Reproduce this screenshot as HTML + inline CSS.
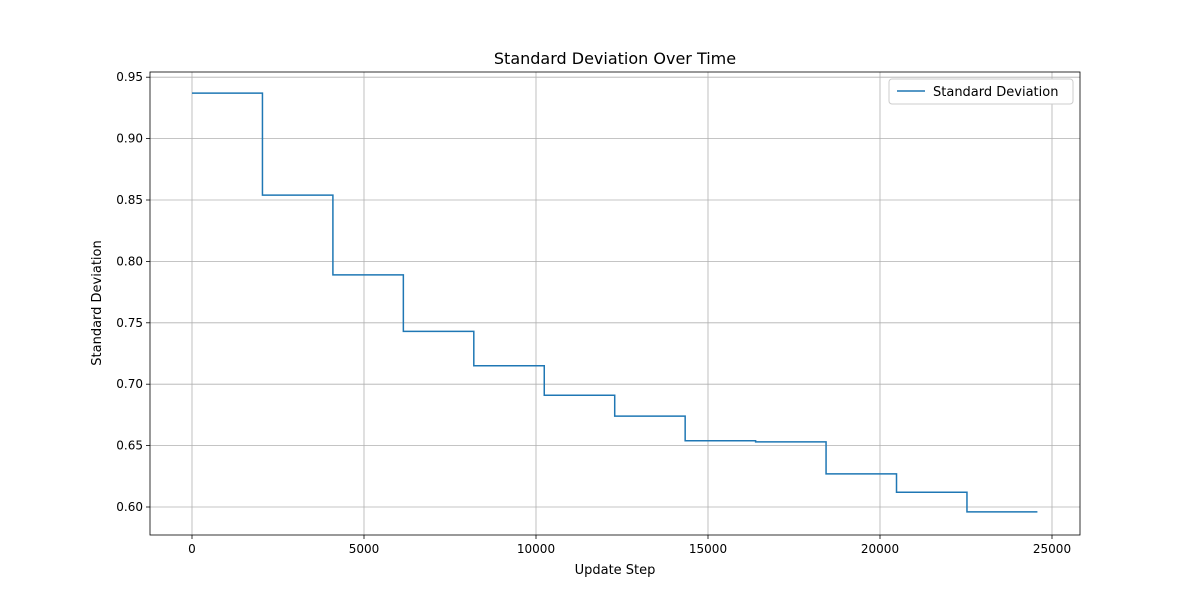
<!DOCTYPE html>
<html><head><meta charset="utf-8"><style>
body{margin:0;background:#fff;}
svg{font-family:"DejaVu Sans","Liberation Sans",sans-serif;}
</style></head><body>
<svg id="chart" width="1200" height="600"></svg>
<script>
const stepStarts = [0,2048,4096,6144,8192,10240,12288,14336,16384,18432,20480,22528,24576];
const stdValues = [0.937,0.854,0.789,0.743,0.715,0.691,0.674,0.654,0.653,0.627,0.612,0.596];
const xTicks = [0,5000,10000,15000,20000,25000];
const yTicks = [0.60,0.65,0.70,0.75,0.80,0.85,0.90,0.95];

const L=150,R=1080,T=72,B=535;
const xs=v=>192+(v/5000)*172;
const ys=v=>507-(v-0.60)/0.05*61.4;
const NS="http://www.w3.org/2000/svg";
const svg=document.getElementById('chart');
function mk(t,a,p){const e=document.createElementNS(NS,t);for(const k in a)e.setAttribute(k,a[k]);(p||svg).appendChild(e);return e;}

const grid=mk('g',{});


xTicks.forEach(v=>{
  const x=xs(v);
  mk('line',{x1:x,x2:x,y1:T,y2:B,stroke:'#b0b0b0','stroke-width':0.8},grid);
  mk('line',{x1:x,x2:x,y1:B,y2:B+4,stroke:'#000','stroke-width':0.8});
  const t=mk('text',{x:x,y:B+18,'text-anchor':'middle','font-size':12});
  t.textContent=v;
  
  
});
yTicks.forEach(v=>{
  const y=ys(v);
  mk('line',{x1:L,x2:R,y1:y,y2:y,stroke:'#b0b0b0','stroke-width':0.8},grid);
  mk('line',{x1:L-4,x2:L,y1:y,y2:y,stroke:'#000','stroke-width':0.8});
  const t=mk('text',{x:L-7,y:y+4,'text-anchor':'end','font-size':12});
  t.textContent=v.toFixed(2);
  
  
});

let d='';
stdValues.forEach((v,i)=>{
  const x0=xs(stepStarts[i]),x1=xs(stepStarts[i+1]),y=ys(v);
  d+=(i===0?'M':'L')+x0+','+y+' L'+x1+','+y+' ';
});
const line=mk('path',{d:d,fill:'none',stroke:'#1f77b4','stroke-width':1.5});



const frame=mk('rect',{x:L,y:T,width:R-L,height:B-T,fill:'none',stroke:'#000','stroke-width':0.8});



const title=mk('text',{x:(L+R)/2,y:64,'text-anchor':'middle','font-size':16});
title.textContent='Standard Deviation Over Time';


const xl=mk('text',{x:(L+R)/2,y:574,'text-anchor':'middle','font-size':13});
xl.textContent='Update Step';


const yl=mk('text',{x:0,y:0,'text-anchor':'middle','font-size':13,transform:'translate(101,303) rotate(-90)'});
yl.textContent='Standard Deviation';



const lg=mk('g',{});


mk('rect',{x:889,y:79,width:184,height:25,rx:3,fill:'#fff',stroke:'#ccc','stroke-width':1},lg);
mk('line',{x1:897,x2:925,y1:91,y2:91,stroke:'#1f77b4','stroke-width':1.5},lg);
const lt=mk('text',{x:933,y:96,'font-size':13},lg);
lt.textContent='Standard Deviation';


</script>
</body></html>
